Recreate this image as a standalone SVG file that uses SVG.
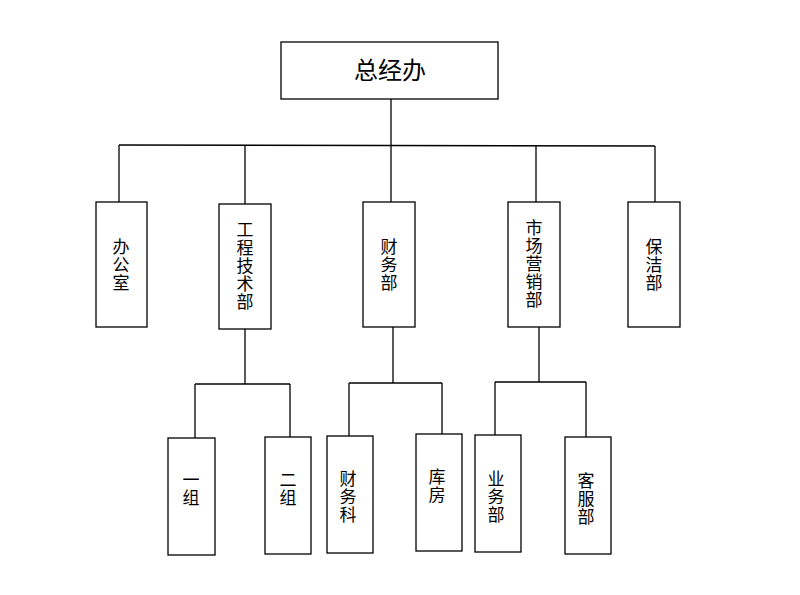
<svg xmlns="http://www.w3.org/2000/svg" width="800" height="595" viewBox="0 0 800 595">
<style>
rect{fill:#fff;stroke:#000;stroke-width:1.3}
line{stroke:#000;stroke-width:1.3}
text{font-family:"Noto Sans CJK SC",sans-serif;font-size:17px;text-anchor:middle;fill:#000}
.v{writing-mode:vertical-rl;letter-spacing:1px}
</style>
<rect width="800" height="595" style="stroke:none"/>
<g id="connectors">
<line x1="391" y1="99" x2="391" y2="145"/>
<line x1="119" y1="145" x2="655" y2="146"/>
<line x1="119" y1="145" x2="119" y2="202"/>
<line x1="245" y1="146" x2="245" y2="204"/>
<line x1="391" y1="146" x2="391" y2="202"/>
<line x1="536" y1="146" x2="536" y2="202"/>
<line x1="655" y1="146" x2="655" y2="202"/>
<line x1="245" y1="329" x2="245" y2="384"/>
<line x1="195" y1="384" x2="290" y2="384"/>
<line x1="195" y1="384" x2="195" y2="438"/>
<line x1="290" y1="384" x2="290" y2="437"/>
<line x1="393" y1="327" x2="393" y2="383"/>
<line x1="349" y1="383" x2="442" y2="383"/>
<line x1="349" y1="383" x2="349" y2="436"/>
<line x1="442" y1="383" x2="442" y2="434"/>
<line x1="539" y1="327" x2="539" y2="382"/>
<line x1="495" y1="382" x2="586" y2="382"/>
<line x1="495" y1="382" x2="495" y2="435"/>
<line x1="586" y1="382" x2="586" y2="437"/>
</g>
<g id="n0"><rect x="281" y="42" width="217" height="57"/><text x="390" y="79" style="font-size:24px">总经办</text></g>
<g id="n1"><rect x="96" y="202" width="51" height="125"/><text class="v" x="121" y="265">办公室</text></g>
<g id="n2"><rect x="219" y="204" width="52" height="125"/><text class="v" x="245" y="266">工程技术部</text></g>
<g id="n3"><rect x="363" y="202" width="52" height="125"/><text class="v" x="389" y="265">财务部</text></g>
<g id="n4"><rect x="508" y="202" width="52" height="125"/><text class="v" x="534" y="264">市场营销部</text></g>
<g id="n5"><rect x="628" y="202" width="52" height="125"/><text class="v" x="654" y="265">保洁部</text></g>
<g id="n6"><rect x="168" y="438" width="47" height="117"/><text class="v" x="191" y="489">一组</text></g>
<g id="n7"><rect x="265" y="437" width="46" height="117"/><text class="v" x="288" y="489">二组</text></g>
<g id="n8"><rect x="327" y="436" width="46" height="117"/><text class="v" x="348" y="497">财务科</text></g>
<g id="n9"><rect x="416" y="434" width="46" height="117"/><text class="v" x="437" y="486">库房</text></g>
<g id="n10"><rect x="475" y="435" width="46" height="117"/><text class="v" x="496" y="497">业务部</text></g>
<g id="n11"><rect x="565" y="437" width="46" height="117"/><text class="v" x="586" y="499">客服部</text></g>
</svg>
